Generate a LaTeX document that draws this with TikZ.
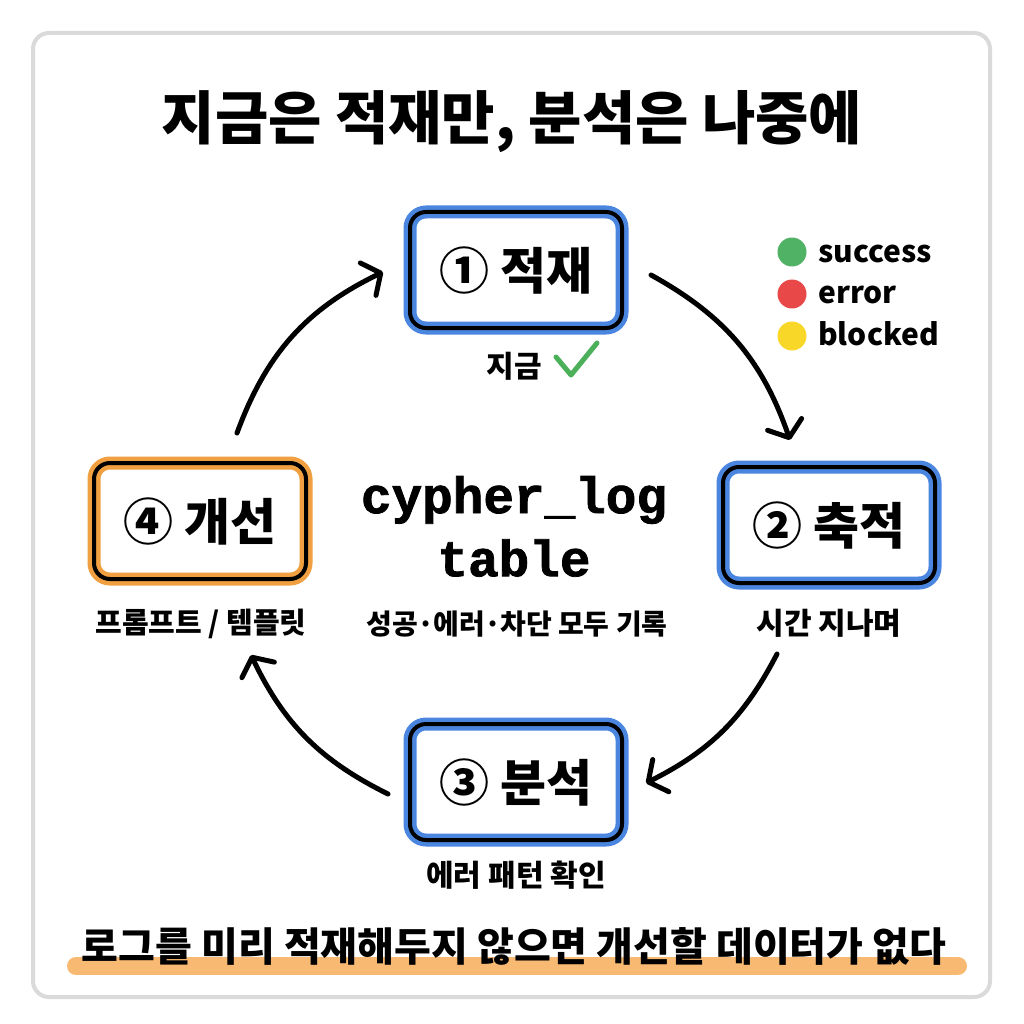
\documentclass[tikz,border=0pt]{standalone}
\usepackage{fontspec}
\setmainfont{Noto Sans CJK KR}
\setmonofont{Liberation Mono}[BoldFont={Liberation Mono Bold}, BoldFeatures={FakeBold=1.5}]
\usetikzlibrary{arrows.meta}
\definecolor{boxblue}{RGB}{74,134,224}
\definecolor{boxorange}{RGB}{240,160,64}
\definecolor{hlorange}{RGB}{248,186,115}
\definecolor{okgreen}{RGB}{76,175,90}
\definecolor{lgreen}{RGB}{80,178,100}
\definecolor{lred}{RGB}{232,72,72}
\definecolor{lyellow}{RGB}{249,215,40}
\definecolor{framegray}{RGB}{218,218,218}
\newcommand{\mdot}{\makebox[0.55em]{·}}
\begin{document}
\begin{tikzpicture}[x=1pt,y=-1pt,
  stepbox/.style={draw=#1, line width=13pt, rounded corners=16pt,
    minimum width=212pt, minimum height=116pt, fill=white, inner sep=0pt,
    font=\fontsize{50}{54}\selectfont\bfseries,
    postaction={draw=black, line width=4pt}},
  lbl/.style={font=\fontsize{30}{34}\selectfont\bfseries, inner sep=0pt},
  cyc/.style={line width=5pt, line cap=round,
    -{Straight Barb[length=14pt,width=36pt,round]}},
  dot/.style={circle, minimum size=29pt, inner sep=0pt, draw=none},
  legtxt/.style={anchor=base west, font=\fontsize{30}{34}\selectfont\bfseries, inner sep=0pt}
]
\useasboundingbox (0,0) rectangle (1024,1024);
\fill[white] (0,0) rectangle (1024,1024);
\draw[framegray, line width=4pt, rounded corners=16pt] (33,33) rectangle (990,997);

% title
\node[font=\fontsize{58}{64}\selectfont\bfseries] (title) at (512,122) {지금은 적재만, 분석은 나중에};

% step boxes
\node[stepbox=boxblue] (n1) at (516,270) {① 적재};
\node[stepbox=boxblue] (n2) at (829,525) {② 축적};
\node[stepbox=boxblue] (n3) at (516,782) {③ 분석};
\node[stepbox=boxorange] (n4) at (200,521) {④ 개선};

% labels
\node[lbl] (l1) at (514,366) {지금};
\draw[okgreen, line width=5pt, line cap=round, line join=round] (556,357) -- (571,375) -- (597,343);
\node[lbl] (l2) at (829,623) {시간 지나며};
\node[lbl] (l3) at (516,875) {에러 패턴 확인};
\node[lbl, font=\fontsize{29}{32}\selectfont\bfseries] (l4) at (201,624) {프롬프트 / 템플릿};

% center
\node[font=\fontsize{51}{55}\ttfamily\bfseries, inner sep=0pt] (c1) at (514,500) {cypher\_log};
\node[font=\fontsize{51}{55}\ttfamily\bfseries, inner sep=0pt] (c2) at (514,558) {table};
\node[lbl, font=\fontsize{28}{32}\selectfont\bfseries] (c3) at (517,624) {성공\mdot 에러\mdot 차단 모두 기록};

% legend
\node[dot, fill=lgreen] (g1) at (792,252) {};
\node[dot, fill=lred] (g2) at (792,294) {};
\node[dot, fill=lyellow] (g3) at (792,336) {};
\node[legtxt] (t1) at (818,262) {success};
\node[legtxt] (t2) at (818,303) {error};
\node[legtxt] (t3) at (818,345) {blocked};

% cycle arrows
\coordinate (a1s) at (237,433); \coordinate (a1e) at (383,272);
\coordinate (a2s) at (651,275); \coordinate (a2e) at (790,440);
\coordinate (a3s) at (777,654); \coordinate (a3e) at (646,783);
\coordinate (a4s) at (388,794); \coordinate (a4e) at (251,655);
\draw[cyc] (a1s) to[bend left=22] (a1e);
\draw[cyc] (a2s) to[bend left=21] (a2e);
\draw[cyc] (a3s) to[bend left=18] (a3e);
\draw[cyc] (a4s) to[bend left=19] (a4e);

% bottom highlight
\draw[hlorange, line width=18pt, line cap=round] (76,966) -- (958,966);
\node[font=\fontsize{40}{44}\selectfont\bfseries] (bottom) at (514,946) {로그를 미리 적재해두지 않으면 개선할 데이터가 없다};
\end{tikzpicture}
\end{document}
